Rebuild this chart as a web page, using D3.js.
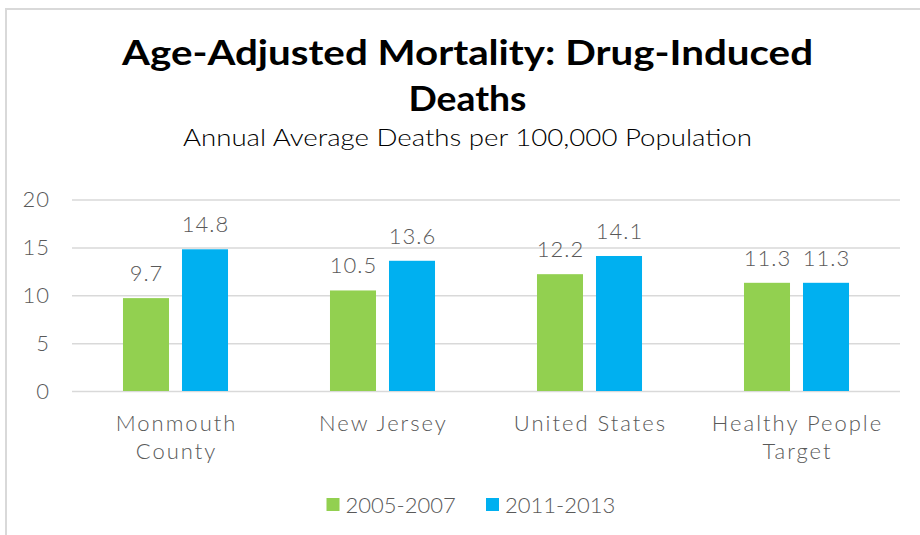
<!DOCTYPE html>
<html>
<head>
<meta charset="utf-8">
<script src="https://cdn.jsdelivr.net/npm/d3@7"></script>
<style>
  html, body { margin: 0; padding: 0; background: #fff; }
  svg { display: block; }
  text { font-family: "Century Gothic", "Lato", "Open Sans", sans-serif; }
</style>
</head>
<body>
<svg id="chart" width="920" height="535"></svg>
<script>
// ---- data ----
const categories = ["Monmouth County", "New Jersey", "United States", "Healthy People Target"];
const categoryLines = [["Monmouth", "County"], ["New Jersey"], ["United States"], ["Healthy People", "Target"]];
const seriesNames = ["2005-2007", "2011-2013"];
const values2005 = [9.7, 10.5, 12.2, 11.3];
const values2011 = [14.8, 13.6, 14.1, 11.3];
const yTicks = [0, 5, 10, 15, 20];
const titleLines = ["Age-Adjusted Mortality: Drug-Induced", "Deaths"];
const subtitle = "Annual Average Deaths per 100,000 Population";

const colors = ["#92D050", "#00B0F0"];
const textGray = "#595959";
const gridGray = "#d9d9d9";
const labelWeight = 300;

const svg = d3.select("#chart");

// chart frame (partially visible)
svg.append("path")
  .attr("d", "M6,536 L6,9 L921,9")
  .attr("fill", "none").attr("stroke", gridGray).attr("stroke-width", 2);

// title
const fitText = (sel, w) => {
  const n = sel.node();
  const cur = n.getComputedTextLength();
  if (cur > 0) sel.attr("textLength", w).attr("lengthAdjust", "spacingAndGlyphs");
};
const t1 = svg.append("text").attr("x", 467.5).attr("y", 65).attr("text-anchor", "middle")
  .attr("font-size", 35).attr("font-weight", "bold").attr("fill", "#000").text(titleLines[0]);
fitText(t1, 691);
const t2 = svg.append("text").attr("x", 467.5).attr("y", 111).attr("text-anchor", "middle")
  .attr("font-size", 35).attr("font-weight", "bold").attr("fill", "#000").text(titleLines[1]);
fitText(t2, 118);
const st = svg.append("text").attr("x", 467.5).attr("y", 146).attr("text-anchor", "middle")
  .attr("font-size", 23).attr("font-weight", labelWeight).attr("fill", "#000").text(subtitle);
fitText(st, 569);

// scales
const x0 = d3.scaleBand().domain(categories).range([72, 900]).padding(0);
const x1 = d3.scaleBand().domain(seriesNames).range([0, x0.bandwidth()])
  .paddingInner(0.22).paddingOuter(0.864);
const y = d3.scaleLinear().domain([0, 20]).range([391, 199.5]);

// y axis with gridlines
const yAxis = svg.append("g").attr("transform", "translate(72,0)")
  .call(d3.axisLeft(y).tickValues(yTicks).tickSize(-(900 - 72)).tickPadding(22).tickFormat(d3.format("d")));
yAxis.select(".domain").remove();
yAxis.selectAll(".tick line").attr("stroke", gridGray).attr("stroke-width", 1.5);
yAxis.selectAll(".tick text").attr("fill", textGray).attr("font-size", 22).attr("font-weight", labelWeight)
  .attr("letter-spacing", 1)
  .attr("font-family", "\"Century Gothic\", \"Lato\", \"Open Sans\", sans-serif");

// bars
const seriesValues = [values2005, values2011];
const data = categories.map((c, i) => ({ cat: c, vals: seriesNames.map((s, j) => ({ s, j, v: seriesValues[j][i] })) }));
const groups = svg.append("g").selectAll("g").data(data).join("g")
  .attr("transform", d => `translate(${x0(d.cat)},0)`);
groups.selectAll("rect").data(d => d.vals).join("rect")
  .attr("x", d => x1(d.s)).attr("width", x1.bandwidth())
  .attr("y", d => y(d.v)).attr("height", d => y(0) - y(d.v))
  .attr("fill", d => colors[d.j]);
groups.selectAll("text.lbl").data(d => d.vals).join("text").attr("class", "lbl")
  .attr("x", d => x1(d.s) + x1.bandwidth() / 2 + 0.5).attr("y", d => y(d.v) - 17)
  .attr("text-anchor", "middle").attr("font-size", 22).attr("font-weight", labelWeight)
  .attr("letter-spacing", 1).attr("fill", textGray)
  .text(d => d.v.toFixed(1));

// category labels
categories.forEach((c, i) => {
  const cx = x0(c) + x0.bandwidth() / 2 + 1;
  const t = svg.append("text").attr("text-anchor", "middle").attr("font-size", 22)
    .attr("font-weight", labelWeight).attr("letter-spacing", 2).attr("fill", textGray);
  categoryLines[i].forEach((line, k) => {
    t.append("tspan").attr("x", cx).attr("y", 431 + k * 28).text(line);
  });
});

// legend
const legend = svg.append("g");
const legendX = [326.5, 486];
seriesNames.forEach((s, j) => {
  legend.append("rect").attr("x", legendX[j]).attr("y", 498).attr("width", 13).attr("height", 13).attr("fill", colors[j]);
  legend.append("text").attr("x", legendX[j] + 19).attr("y", 512.5).attr("font-size", 22)
    .attr("font-weight", labelWeight).attr("fill", textGray).text(s);
});
</script>
</body>
</html>
